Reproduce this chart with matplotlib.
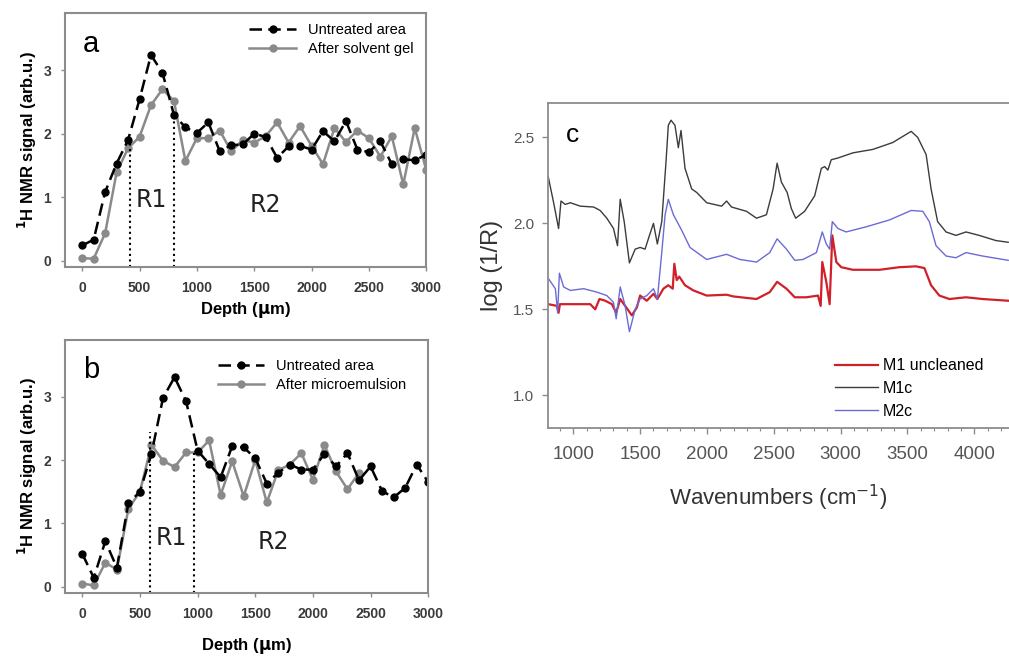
import numpy as np
import matplotlib
matplotlib.use("Agg")
import matplotlib.pyplot as plt
from matplotlib.ticker import MultipleLocator

plt.rcParams['font.family'] = ['Liberation Sans', 'DejaVu Sans']

# ---- panel a / b : 1H NMR depth profiles ----
depth = np.arange(0, 3100, 100)

a_untreated = [0.24, 0.33, 1.08, 1.53, 1.90, 2.54, 3.24, 2.96, 2.30, 2.10, 2.01,
               2.18, 1.72, 1.82, 1.83, 2.00, 1.95, 1.62, 1.80, 1.81, 1.75,
               2.04, 1.88, 2.20, 1.75, 1.71, 1.88, 1.52, 1.60, 1.58, 1.67]
a_gel = [0.04, 0.03, 0.43, 1.39, 1.77, 1.95, 2.45, 2.70, 2.52, 1.57, 1.93,
         1.93, 2.05, 1.72, 1.90, 1.86, 1.96, 2.18, 1.86, 2.12, 1.81,
         1.52, 2.09, 1.87, 2.05, 1.93, 1.64, 1.96, 1.20, 2.09, 1.43]

b_untreated = [0.52, 0.14, 0.72, 0.30, 1.32, 1.50, 2.10, 2.98, 3.31, 2.93, 2.15,
               1.94, 1.73, 2.22, 2.20, 2.03, 1.63, 1.80, 1.93, 1.85, 1.85,
               2.10, 1.90, 2.11, 1.68, 1.90, 1.51, 1.41, 1.56, 1.93, 1.65]
b_micro = [0.05, 0.02, 0.38, 0.27, 1.23, 1.50, 2.24, 1.99, 1.89, 2.12, 2.12,
           2.31, 1.45, 1.98, 1.43, 2.00, 1.33, 1.84, 1.93, 2.11, 1.69,
           2.24, 1.82, 1.54, 1.80]

a_r1_x = [420, 800]
a_r1_top = [1.9, 2.3]
b_r1_x = [590, 970]
b_r1_top = [2.45, 2.15]

# ---- panel c : reflectance spectra ----
m1c_x = [813, 853, 890, 908, 940, 978, 1052, 1152, 1201, 1251, 1301, 1331, 1351,
         1381, 1420, 1463, 1500, 1537, 1570, 1600, 1629, 1662, 1694, 1711, 1731,
         1761, 1786, 1806, 1836, 1886, 1923, 1998, 2110, 2147, 2184, 2296, 2371,
         2445, 2495, 2525, 2557, 2600, 2632, 2664, 2731, 2806, 2856, 2881, 2905,
         2930, 2980, 3092, 3241, 3390, 3528, 3577, 3640, 3677, 3726, 3789, 3863,
         3938, 4037, 4162, 4254]
m1c_y = [2.27, 2.12, 1.97, 2.13, 2.11, 2.12, 2.10, 2.095, 2.075, 2.03, 1.97, 1.87,
         2.14, 2.01, 1.77, 1.85, 1.86, 1.85, 1.93, 2.00, 1.88, 2.01, 2.36, 2.57,
         2.60, 2.57, 2.44, 2.54, 2.32, 2.20, 2.18, 2.12, 2.10, 2.13, 2.095, 2.07,
         2.03, 2.05, 2.20, 2.35, 2.24, 2.18, 2.085, 2.03, 2.07, 2.16, 2.32, 2.33,
         2.31, 2.37, 2.38, 2.41, 2.43, 2.47, 2.535, 2.50, 2.40, 2.20, 2.01, 1.95,
         1.93, 1.95, 1.93, 1.90, 1.89]

m2c_x = [813, 866, 883, 896, 928, 978, 1077, 1177, 1251, 1301, 1321, 1351, 1388,
         1420, 1463, 1500, 1550, 1600, 1629, 1662, 1687, 1711, 1749, 1811, 1873,
         1998, 2147, 2246, 2371, 2470, 2525, 2595, 2657, 2719, 2819, 2863, 2893,
         2918, 2938, 2980, 3042, 3192, 3366, 3528, 3615, 3664, 3714, 3789, 3863,
         3938, 4062, 4254]
m2c_y = [1.68, 1.62, 1.48, 1.71, 1.63, 1.61, 1.62, 1.60, 1.58, 1.54, 1.445, 1.63,
         1.52, 1.37, 1.50, 1.56, 1.58, 1.62, 1.56, 1.83, 2.05, 2.14, 2.05, 1.96,
         1.86, 1.79, 1.82, 1.79, 1.775, 1.83, 1.91, 1.85, 1.785, 1.79, 1.83, 1.95,
         1.88, 1.85, 2.01, 1.97, 1.95, 1.98, 2.02, 2.075, 2.07, 2.01, 1.87, 1.81,
         1.80, 1.83, 1.81, 1.785]

m1_x = [813, 878, 890, 900, 1002, 1127, 1164, 1196, 1239, 1289, 1321, 1351, 1388,
        1438, 1475, 1500, 1550, 1600, 1629, 1674, 1711, 1744, 1756, 1774, 1793,
        1836, 1898, 1998, 2147, 2197, 2371, 2470, 2525, 2595, 2657, 2744, 2831,
        2851, 2863, 2893, 2918, 2938, 2968, 3005, 3092, 3291, 3440, 3565, 3627,
        3677, 3739, 3814, 3938, 4062, 4254]
m1_y = [1.53, 1.52, 1.48, 1.53, 1.53, 1.53, 1.50, 1.56, 1.55, 1.53, 1.48, 1.56,
        1.52, 1.465, 1.51, 1.58, 1.55, 1.59, 1.56, 1.62, 1.64, 1.62, 1.765, 1.67,
        1.69, 1.64, 1.61, 1.58, 1.585, 1.575, 1.56, 1.60, 1.66, 1.62, 1.57, 1.57,
        1.58, 1.52, 1.775, 1.66, 1.53, 1.93, 1.775, 1.745, 1.73, 1.73, 1.745, 1.75,
        1.74, 1.64, 1.58, 1.56, 1.57, 1.56, 1.55]

GRAY = '#8a8a8a'
SPINE = '#8c8c8c'
TXT = '#3a3a3a'


def depth_panel(ax, untreated, treated, treated_label, r1_x, r1_top, letter,
                r1_pos, r2_pos, leg_anchor):
    ax.plot(depth[:len(treated)], treated, '-', color=GRAY, lw=1.8, marker='o',
            ms=5, label=treated_label)
    ax.plot(depth, untreated, '--', color='black', lw=1.8, dashes=(5, 2.5),
            marker='o', ms=5, label='Untreated area')
    for x, top in zip(r1_x, r1_top):
        ax.plot([x, x], [-0.1, top], ':', color='black', lw=1.5)
    ax.set_xlim(-150, 3000)
    ax.set_ylim(-0.1, 3.9)
    ax.set_xticks([0, 500, 1000, 1500, 2000, 2500, 3000])
    ax.set_yticks([0, 1, 2, 3])
    for s in ax.spines.values():
        s.set_color(SPINE)
        s.set_linewidth(1.5)
    ax.tick_params(direction='out', length=3, width=1, color=SPINE,
                   labelsize=10, labelcolor=TXT)
    ax.tick_params(axis='x', pad=7)
    ax.tick_params(axis='y', pad=7)
    for lab in ax.get_xticklabels() + ax.get_yticklabels():
        lab.set_fontweight('bold')
    ax.set_xlabel(r'Depth ($\mathbf{\mu}$m)', fontsize=12, fontweight='bold')
    ax.set_ylabel(r'$^{\mathbf{1}}$H NMR signal (arb.u.)', fontsize=12,
                  fontweight='bold', labelpad=3)
    ax.text(0.05, 0.88, letter, transform=ax.transAxes, fontsize=21,
            va='center', ha='left')
    ax.text(r1_pos[0], r1_pos[1], 'R1', fontsize=17, family='DejaVu Sans',
            color='#222222', ha='center', va='center')
    ax.text(r2_pos[0], r2_pos[1], 'R2', fontsize=17, family='DejaVu Sans',
            color='#222222', ha='center', va='center')
    h, l = ax.get_legend_handles_labels()
    ax.legend(h[::-1], l[::-1], loc='upper left', bbox_to_anchor=leg_anchor,
              frameon=False, fontsize=10.5, handlelength=3.2,
              handletextpad=0.8, labelspacing=0.35, borderpad=0,
              borderaxespad=0)


fig = plt.figure(figsize=(10.09, 6.56), dpi=100)

ax_a = fig.add_axes([0.0644, 0.593, 0.358, 0.387])
depth_panel(ax_a, a_untreated, a_gel, 'After solvent gel', a_r1_x, a_r1_top,
            'a', (600, 0.95), (1600, 0.88), (0.51, 0.962))
ax_a.xaxis.set_label_coords(0.5, -0.13)

ax_b = fig.add_axes([0.0644, 0.096, 0.36, 0.386])
depth_panel(ax_b, b_untreated, b_micro, 'After microemulsion', b_r1_x, b_r1_top,
            'b', (770, 0.77), (1660, 0.71), (0.42, 0.925))
ax_b.xaxis.set_label_coords(0.5, -0.17)

ax_c = fig.add_axes([0.543, 0.3476, 0.457, 0.4954])
ax_c.plot(m1_x, m1_y, color='#d0202a', lw=1.6, label='M1 uncleaned')
ax_c.plot(m1c_x, m1c_y, color='#3c3c3c', lw=1.0, label='M1c')
ax_c.plot(m2c_x, m2c_y, color='#6b6bd6', lw=1.0, label='M2c')
ax_c.set_xlim(810, 4260)
ax_c.set_ylim(0.81, 2.7)
ax_c.xaxis.set_major_locator(MultipleLocator(500))
ax_c.xaxis.set_minor_locator(MultipleLocator(100))
ax_c.set_yticks([1.0, 1.5, 2.0, 2.5])
ax_c.set_xticks([1000, 1500, 2000, 2500, 3000, 3500, 4000])
for s in ax_c.spines.values():
    s.set_color(SPINE)
    s.set_linewidth(1.3)
ax_c.spines['right'].set_visible(False)
ax_c.tick_params(direction='out', length=4, width=1, color=SPINE,
                 labelcolor='#555555')
ax_c.tick_params(axis='x', labelsize=13.5, pad=9)
ax_c.tick_params(axis='x', which='minor', length=2, width=0.8, color=SPINE)
ax_c.tick_params(axis='y', labelsize=11, pad=6)
ax_c.set_xlabel(r'Wavenumbers (cm$^{-1}$)', fontsize=16, color='#333333',
                labelpad=14)
ax_c.set_ylabel('log (1/R)', fontsize=17, color='#333333', labelpad=7)
ax_c.text(0.04, 0.9, 'c', transform=ax_c.transAxes, fontsize=19,
          va='center', ha='left')
ax_c.legend(loc='upper left', bbox_to_anchor=(0.623, 0.215), frameon=False,
            fontsize=11.5, handlelength=2.7, handletextpad=0.3,
            labelspacing=0.5, borderpad=0, borderaxespad=0)

fig.savefig('out.png', dpi=100)
